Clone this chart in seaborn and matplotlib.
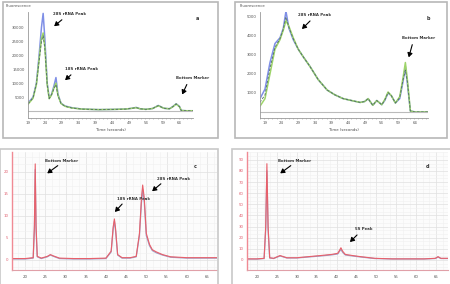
import matplotlib
matplotlib.use("Agg")
import matplotlib.pyplot as plt
import matplotlib.ticker as mt
from matplotlib.patches import Rectangle
import seaborn as sns
import pandas as pd

# ---------------- data ----------------
# panel a (top-left)
a_x = [19, 20.5, 21.5, 22.3, 23.0, 23.5, 24.0, 24.7, 25.3, 26.0, 26.7, 27.3, 27.9, 28.8, 30, 32, 35, 40,
       45, 48, 50, 51.1, 52.3, 54, 56, 57.7, 59.3, 61, 62, 63, 64, 64.5, 66, 68]
a_blue = [2800, 5000, 10000, 20000, 30000, 35000, 26000, 10000, 4600, 6000, 9000, 12000, 6000, 2800, 1800,
          1200, 700, 500, 600, 700, 1000, 1300, 800, 600, 900, 2000, 1000, 800, 1600, 2600, 1600, 200, 100, 100]
a_green = [2400, 4600, 9500, 18500, 26000, 28000, 23000, 9500, 4400, 5800, 8200, 10000, 5600, 2700, 1700,
           1100, 700, 500, 600, 700, 1000, 1200, 800, 600, 900, 1900, 1000, 800, 1500, 2500, 1500, 200, 100, 100]
a_grey = [2600, 4700, 9800, 18000, 25000, 27000, 22500, 9600, 4500, 5900, 8000, 9500, 5500, 2700, 1700,
          1100, 700, 500, 600, 700, 1000, 1250, 800, 600, 900, 1950, 1000, 800, 1550, 2550, 1550, 200, 100, 100]
a_xticks = [19, 24, 29, 34, 39, 44, 49, 54, 59, 64]
a_yticks = [5000, 10000, 15000, 20000, 25000, 30000]

# panel b (top-right)
b_x = [17.5, 19, 20.5, 22, 23.5, 24.5, 25.3, 26.2, 27.5, 29, 30.5, 32.5, 35, 37.7, 40, 42.5, 45, 47.6,
       49, 50, 51.4, 52.6, 54.1, 55, 56, 57, 58.2, 59.5, 60.5, 61.2, 61.8, 62.7, 64, 66, 68]
b_blue = [700, 1200, 2600, 3600, 3900, 4400, 5300, 4400, 3800, 3300, 2900, 2400, 1700, 1150, 900, 700,
          600, 500, 550, 700, 350, 600, 380, 600, 1000, 850, 470, 700, 1600, 2400, 1500, 50, 0, 0, 0]
b_green = [300, 700, 2000, 3300, 3800, 4300, 4800, 4500, 3900, 3300, 2900, 2400, 1700, 1150, 900, 700,
           600, 500, 550, 700, 350, 600, 380, 650, 1050, 850, 470, 800, 1800, 2600, 1700, 50, 0, 0, 0]
b_grey = [500, 900, 2300, 3400, 3850, 4350, 5000, 4450, 3850, 3300, 2900, 2400, 1700, 1150, 900, 700,
          600, 500, 550, 700, 350, 600, 380, 620, 1020, 850, 470, 750, 1700, 2200, 1600, 50, 0, 0, 0]
b_xticks = [19, 24, 29, 34, 39, 44, 49, 54, 59, 64]
b_yticks = [1000, 2000, 3000, 4000, 5000]

# panel c (bottom-left)
c_x = [16.75, 20, 22.0, 22.3, 22.5, 22.7, 23.0, 24, 25.5, 26.25, 27, 28.5, 32, 36, 40, 41.3, 41.8, 42.1,
       42.4, 42.9, 44, 46, 47.5, 48.3, 48.8, 49.1, 49.5, 50, 50.8, 51.5, 52.5, 54, 56, 60, 64, 67.5]
c_red = [0.3, 0.3, 0.5, 8, 21.8, 8, 0.8, 0.4, 0.8, 1.2, 0.9, 0.4, 0.3, 0.3, 0.4, 2, 7.5, 9.3, 7, 1.2,
         0.5, 0.5, 0.8, 6, 14, 17, 14, 6, 3.5, 2.3, 1.8, 1.2, 0.7, 0.5, 0.5, 0.5]
c_blue = [0.2, 0.2, 0.4, 7, 20.5, 7, 0.7, 0.3, 0.7, 1.1, 0.8, 0.3, 0.2, 0.2, 0.3, 1.8, 7, 8.8, 6.5, 1.1,
          0.4, 0.4, 0.7, 5.5, 13, 16, 13, 5.5, 3.2, 2.1, 1.6, 1.1, 0.6, 0.4, 0.4, 0.4]
c_xticks = [20, 25, 30, 35, 40, 45, 50, 55, 60, 65]
c_yticks = [0, 5, 10, 15, 20]

# panel d (bottom-right)
d_x = [17.5, 20, 21.8, 22.2, 22.5, 22.8, 23.2, 24.2, 25.8, 27.5, 30, 33, 36, 38.8, 40.3, 40.8, 41.1,
       41.5, 42.2, 44, 46, 49.6, 54, 58, 62, 64.8, 65.5, 66.2, 68]
d_red = [1, 1, 1.5, 30, 86.5, 30, 2, 1.5, 4, 2, 2, 3, 4, 5, 6, 9, 11, 8, 5, 4, 3, 1.5, 1, 1, 1, 1.5,
         3, 1.5, 1.5]
d_blue = [0.8, 0.8, 1.3, 27, 80, 27, 1.8, 1.3, 3.6, 1.8, 1.8, 2.7, 3.6, 4.6, 5.4, 8, 9.5, 7, 4.5, 3.6,
          2.7, 1.3, 0.9, 0.9, 0.9, 1.3, 2.6, 1.3, 1.3]
d_xticks = [20, 25, 30, 35, 40, 45, 50, 55, 60, 65]
d_yticks = [0, 10, 20, 30, 40, 50, 60, 70, 80, 90]

# ---------------- figure ----------------
sns.set_theme(style="white")
plt.rcParams['font.family'] = ['DejaVu Sans']
W, H = 450, 284
fig = plt.figure(figsize=(W / 100, H / 100), dpi=100)
fig.patch.set_facecolor("white")


def rect(l, t, r, b):
    return [l / W, 1 - b / H, (r - l) / W, (b - t) / H]


def box(l, t, r, b, color="#b8b8b8"):
    fig.patches.append(Rectangle((l / W, 1 - b / H), (r - l) / W, (b - t) / H,
                                 transform=fig.transFigure, fill=False, ec=color, lw=1.2))


def arrow(text, tx, ty, hx, hy, ax0x, ax0y):
    fig.text(tx / W, 1 - ty / H, text, fontsize=2.8, color="#333333", ha="left", va="center",
             fontweight="bold")
    fig.add_artist(matplotlib.patches.FancyArrowPatch(
        (ax0x / W, 1 - ax0y / H), (hx / W, 1 - hy / H), transform=fig.transFigure,
        arrowstyle="-|>,head_length=2.5,head_width=1.5", color="black", lw=0.8))


box(3, 2, 218, 138)
box(235, 2, 447, 138)
box(0, 149, 218, 290, color="#c8c8c8")
box(232, 149, 452, 290, color="#c8c8c8")


def top_panel(r, x, series, xt, yt, ylim, xlim):
    ax = fig.add_axes(rect(*r))
    ax.set_facecolor("white")
    cols = {"blue": "#7f8fe6", "green": "#9ed46a", "grey": "#4d6b63"}
    for name, ys in series.items():
        df = pd.DataFrame({"x": x, "y": ys})
        sns.lineplot(data=df, x="x", y="y", ax=ax, color=cols[name], lw=1.1 if name != "grey" else 0.6,
                     linestyle="-" if name != "grey" else (0, (3, 2)), sort=False, estimator=None)
    ax.axhline(0, color="#bbbbbb", lw=0.8)
    ax.set_xlim(*xlim)
    ax.set_ylim(*ylim)
    ax.set_xticks(xt)
    ax.set_xticklabels([str(v) for v in xt])
    ax.xaxis.set_minor_locator(mt.MultipleLocator(1.25))
    ax.set_yticks(yt)
    ax.set_yticklabels([str(v) for v in yt])
    for s in ["top", "right"]:
        ax.spines[s].set_visible(False)
    for s in ["left", "bottom"]:
        ax.spines[s].set_color("#999999")
        ax.spines[s].set_linewidth(0.6)
    ax.tick_params(axis="both", labelsize=2.8, length=1.5, width=0.5, colors="#999999",
                   labelcolor="#555555", pad=1)
    ax.tick_params(axis="x", which="minor", length=1, width=0.4, colors="#999999", bottom=True)
    ax.set_xlabel("Time (seconds)", fontsize=2.8, color="#444444", labelpad=1.5)
    ax.set_ylabel("")
    return ax


ax_a = top_panel((28, 12, 193, 118), a_x, {"blue": a_blue, "green": a_green, "grey": a_grey},
                 a_xticks, a_yticks, (-2500, 35500), (19, 68))
ax_b = top_panel((260, 12, 428, 118), b_x, {"blue": b_blue, "green": b_green, "grey": b_grey},
                 b_xticks, b_yticks, (-320, 5260), (17.5, 68))
fig.text(6 / W, 1 - 6 / H, "Fluorescence", fontsize=2.8, color="#555555", va="center")
fig.text(240 / W, 1 - 6 / H, "Fluorescence", fontsize=2.8, color="#555555", va="center")


def bottom_panel(r, x, red, blue, xt, yt, ylim, xlim):
    ax = fig.add_axes(rect(*r))
    ax.set_facecolor("#fcfcfc")
    df1 = pd.DataFrame({"x": x, "y": blue})
    df2 = pd.DataFrame({"x": x, "y": red})
    sns.lineplot(data=df1, x="x", y="y", ax=ax, color="#a0a0c8", lw=0.9, sort=False, estimator=None)
    sns.lineplot(data=df2, x="x", y="y", ax=ax, color="#e8606a", lw=0.8, sort=False, estimator=None)
    ax.set_xlim(*xlim)
    ax.set_ylim(*ylim)
    ax.set_xticks(xt)
    ax.set_xticklabels([str(v) for v in xt])
    ax.set_yticks(yt)
    ax.set_yticklabels([str(v) for v in yt])
    ax.xaxis.set_minor_locator(mt.AutoMinorLocator(3))
    ax.yaxis.set_minor_locator(mt.AutoMinorLocator(3))
    ax.grid(True, which="major", color="#e0e0e0", lw=0.5)
    ax.grid(True, which="minor", color="#f0f0f0", lw=0.4)
    ax.set_axisbelow(True)
    for s in ["top", "right"]:
        ax.spines[s].set_visible(False)
    ax.spines["left"].set_color("#f08a94")
    ax.spines["left"].set_linewidth(1.0)
    ax.spines["bottom"].set_color("#e0a0a8")
    ax.spines["bottom"].set_linewidth(0.8)
    ax.tick_params(axis="y", labelsize=2.8, length=1.5, width=0.5, colors="#f08a94",
                   labelcolor="#e06070", pad=1)
    ax.tick_params(axis="x", labelsize=2.8, length=1.5, width=0.5, colors="#cccccc",
                   labelcolor="#555555", pad=2)
    ax.tick_params(which="minor", length=0)
    ax.set_xlabel("")
    ax.set_ylabel("")
    return ax


ax_c = bottom_panel((12, 152, 217, 270), c_x, c_red, c_blue, c_xticks, c_yticks, (-2.3, 24.5), (16.75, 67.5))
ax_d = bottom_panel((247, 152, 448, 270), d_x, d_red, d_blue, d_xticks, d_yticks, (-9, 97), (17.5, 68))

# annotations (figure pixel positions)
arrow("28S rRNA Peak", 53, 14, 52, 28, 64, 18)
arrow("18S rRNA Peak", 65, 69, 63, 82, 73, 73)
arrow("Bottom Marker", 176, 78, 181, 97, 188, 82)
arrow("28S rRNA Peak", 298, 15, 300, 31, 312, 19)
arrow("Bottom Marker", 402, 38, 408, 60, 413, 42)
arrow("Bottom Marker", 45, 161, 45, 175, 60, 164)
arrow("18S rRNA Peak", 117, 199, 113, 214, 124, 202)
arrow("28S rRNA Peak", 157, 179, 150, 193, 163, 182)
arrow("Bottom Marker", 278, 161, 278, 175, 293, 164)
arrow("5S Peak", 355, 229, 348, 244, 359, 233)

for lab, px, py in [("a", 197, 19), ("b", 428, 18), ("c", 195, 166), ("d", 428, 166)]:
    fig.text(px / W, 1 - py / H, lab, fontsize=3.5, color="#333333", ha="center", va="center",
             fontweight="bold")

fig.savefig("out.png", dpi=100, facecolor="white")
